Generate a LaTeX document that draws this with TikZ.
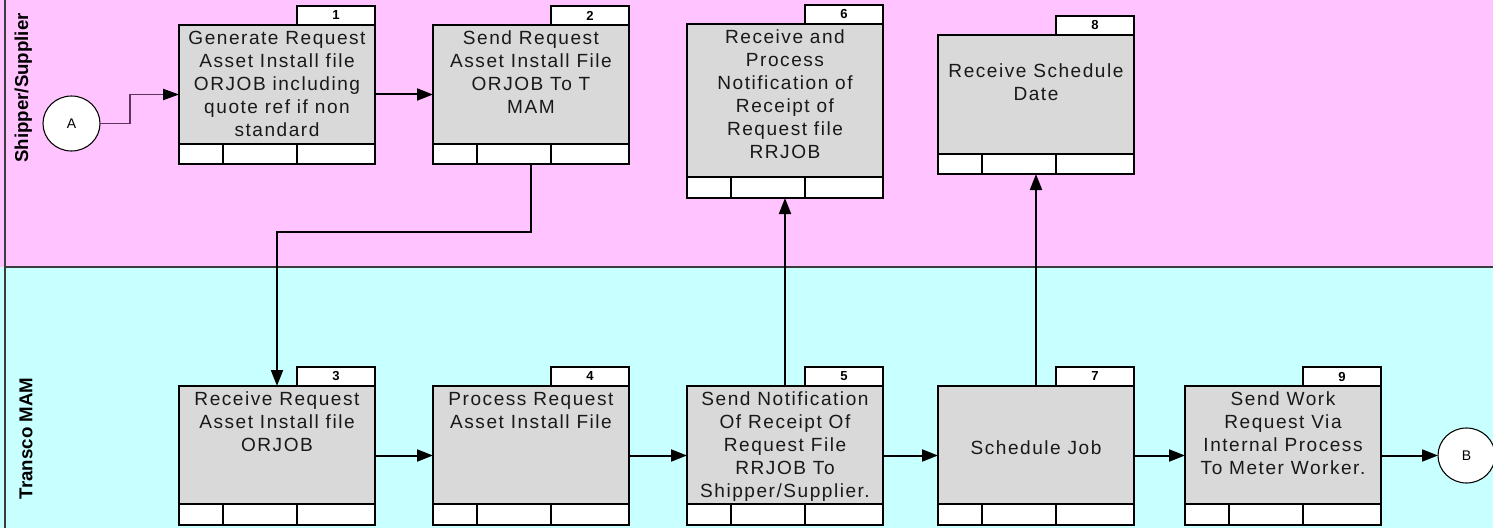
\documentclass[tikz,border=0pt]{standalone}
\usepackage{fontspec}
\setmainfont{Liberation Sans}
\newfontfamily\boxfont[LetterSpace=8]{Liberation Sans}
\usetikzlibrary{arrows.meta,shapes.geometric}
\definecolor{lanepink}{RGB}{255,196,255}
\definecolor{lanecyan}{RGB}{200,255,255}
\definecolor{boxgray}{RGB}{217,217,217}
\definecolor{lanegray}{RGB}{60,60,60}
\definecolor{offline}{RGB}{95,50,95}
\definecolor{boxink}{RGB}{25,25,25}
\tikzset{
  boxline/.style={draw=black, line width=1.5pt},
  boxbody/.style={boxline, fill=boxgray, minimum width=147pt, inner sep=0pt, outer sep=0pt},
  tabbox/.style={boxline, fill=white, minimum width=58.5pt, minimum height=14.25pt, inner sep=0pt, outer sep=0pt, font=\bfseries\fontsize{9.8}{11}\selectfont},
  boxtext/.style={align=center, inner sep=0pt, text=boxink, font=\boxfont\fontsize{14.3}{17.25}\selectfont, execute at begin node=\strut, execute at end node=\strut},
  offpage/.style={ellipse, draw=black, line width=0.8pt, fill=white, minimum width=42.75pt, minimum height=41.25pt, inner sep=0pt, outer sep=0pt, font=\fontsize{10.5}{12}\selectfont},
  conn/.style={draw=black, line width=1.5pt, -{Triangle[length=12pt,width=9pt]}},
  thinconn/.style={draw=offline, line width=0.8pt, -{Triangle[length=12pt,width=8.5pt,color=black]}},
  lanelabel/.style={rotate=90, anchor=base, font=\bfseries\fontsize{14}{17}\selectfont},
}
% #1 name, #2 left, #3 body top, #4 strip top, #5 bottom, #6 number, #7 text centre y, #8 text
\newcommand\procbox[8]{%
  \node[boxbody, minimum height={(#5-#3)*0.75pt}] (#1) at ({#2+98},{(#3+#5)/2}) {};
  \draw[boxline, fill=white] (#1.south west) rectangle ({#2+196},#4);
  \draw[boxline] ({#2+44},#4) -- ({#2+44},#5) ({#2+118},#4) -- ({#2+118},#5);
  \node[tabbox] (#1n) at ({#2+157},{#3-9.5}) {#6};
  \node[boxtext] (#1t) at ({#2+98},#7) {#8};
}
\begin{document}
\begin{tikzpicture}[x=0.75pt,y=-0.75pt]
\useasboundingbox (0,0) rectangle (1493,528);
% lanes
\fill[lanepink] (0,0) rectangle (1493,267);
\fill[lanecyan] (0,267) rectangle (1493,528);
\draw[lanegray, line width=0.9pt] (5,267) -- (1493,267);
\draw[lanegray, line width=1.3pt] (5,0) -- (5,528);
\node[lanelabel] (lane1) at (28,88) {Shipper/Supplier};
\node[lanelabel] (lane2) at (32.5,438.5) {Transco MAM};
% boxes
\procbox{b1}{179}{25}{144}{164}{1}{87.1}{Generate Request\\Asset Install file\\ORJOB including\\quote ref if non\\standard}
\procbox{b2}{433}{25}{144}{164}{2}{75.8}{Send Request\\Asset Install File\\ORJOB To T\\MAM}
\procbox{b6}{687}{24}{177}{198}{6}{97.2}{Receive and\\Process\\Notification of\\Receipt of\\Request file\\RRJOB}
\procbox{b8}{938}{35}{154}{174}{8}{86}{Receive Schedule\\Date}
\procbox{b3}{179}{386}{504}{525}{3}{424.8}{Receive Request\\Asset Install file\\ORJOB}
\procbox{b4}{433}{386}{504}{525}{4}{413.5}{Process Request\\Asset Install File}
\procbox{b5}{687}{386}{504}{525}{5}{448}{Send Notification\\Of Receipt Of\\Request File\\RRJOB To\\Shipper/Supplier.}
\procbox{b7}{938}{386}{504}{525}{7}{449.8}{Schedule Job}
\procbox{b9}{1185}{386}{504}{525}{9}{436.5}{Send Work\\Request Via\\Internal Process\\To Meter Worker.}
% off-page connectors
\node[offpage] (A) at (71.5,123.5) {A};
\node[offpage] (B) at (1466.5,455.5) {B};
% connectors
\draw[thinconn] (A.east) -- ++(30,0) |- (b1.west);
\draw[conn] (b1.east) -- (b2.west);
\draw[conn] (b2.south) -- ++(0,68) -| (b3.north);
\draw[conn] (b3.east) -- (b4.west);
\draw[conn] (b4.east) -- (b5.west);
\draw[conn] (b5.north) -- (b6.south);
\draw[conn] (b5.east) -- (b7.west);
\draw[conn] (b7.north) -- (b8.south);
\draw[conn] (b7.east) -- (b9.west);
\draw[conn] (b9.east) -- (B.west);
\end{tikzpicture}
\end{document}
